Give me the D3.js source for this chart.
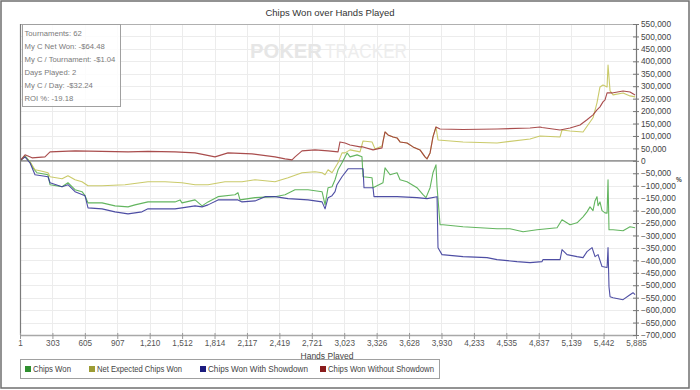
<!DOCTYPE html>
<html><head><meta charset="utf-8">
<script src="https://cdn.jsdelivr.net/npm/d3@7"></script>
<style>
html,body{margin:0;padding:0;background:#fff;}
svg{display:block;}
text{font-family:"Liberation Sans",Arial,sans-serif;}
</style></head>
<body>
<svg id="chart" width="700" height="390"></svg>
<script>
const titleText = "Chips Won over Hands Played";
const xAxisTitle = "Hands Played";
const xTickLabels = ["1","303","605","907","1,210","1,512","1,814","2,117","2,419","2,721","3,023","3,326","3,628","3,930","4,233","4,535","4,837","5,139","5,442","5,885"];
const handStep = 302.25;
const yTicks = d3.range(-700000, 550001, 50000);
const statsLines = ["Tournaments: 62","My C Net Won: -$64.48","My C / Tournament: -$1.04","Days Played: 2","My C / Day: -$32.24","ROI %: -19.18"];
const seriesNames = ["Chips Won","Net Expected Chips Won","Chips Won With Showdown","Chips Won Without Showdown"];
const lineColors = ["#52ad4e","#c4c45a","#3b3b9a","#a03a3a"];
const legendColors = ["#2f8f2f","#9c9c34","#1c1c7e","#8a1c1c"];

// [hand, chips]
const chipsWon = [[1,0],[48,20000],[94,-4000],[122,-28000],[159,-48000],[262,-56000],[281,-96000],[393,-104000],[448,-88000],[514,-116000],[579,-124000],[607,-140000],[635,-169000],[766,-169000],[887,-181000],[1008,-185000],[1073,-177000],[1194,-165000],[1446,-165000],[1493,-157000],[1511,-169000],[1633,-157000],[1698,-181000],[1754,-165000],[1847,-144000],[2005,-136000],[2033,-128000],[2052,-157000],[2192,-148000],[2378,-144000],[2472,-136000],[2565,-116000],[2686,-116000],[2817,-124000],[2845,-177000],[2873,-108000],[2910,-104000],[2938,-76000],[2966,-36000],[3003,-8000],[3050,32000],[3078,16000],[3143,24000],[3189,16000],[3199,-64000],[3283,-68000],[3292,-108000],[3385,-88000],[3404,-28000],[3451,-56000],[3516,-48000],[3544,-76000],[3609,-84000],[3702,-108000],[3758,-136000],[3786,-148000],[3824,-108000],[3851,-48000],[3879,-16000],[3889,-104000],[3917,-257000],[3945,-257000],[4131,-265000],[4290,-269000],[4448,-273000],[4569,-273000],[4691,-285000],[4821,-277000],[5008,-269000],[5054,-237000],[5129,-257000],[5194,-249000],[5250,-225000],[5287,-205000],[5315,-185000],[5343,-200000],[5362,-160000],[5380,-144000],[5390,-180000],[5408,-165000],[5427,-200000],[5455,-209000],[5474,-210000],[5483,-76000],[5492,-277000],[5530,-277000],[5623,-281000],[5688,-265000],[5735,-269000]];

const netExpected = [[1,0],[48,16000],[94,-4000],[141,-36000],[187,-40000],[262,-48000],[281,-64000],[393,-72000],[448,-60000],[514,-76000],[579,-84000],[635,-100000],[766,-100000],[980,-96000],[1194,-84000],[1353,-84000],[1511,-88000],[1633,-96000],[1754,-96000],[1912,-84000],[2071,-84000],[2192,-76000],[2378,-84000],[2500,-68000],[2630,-48000],[2751,-44000],[2817,-48000],[2845,-56000],[2873,-36000],[2910,-48000],[2966,-8000],[3003,32000],[3031,32000],[3078,44000],[3171,36000],[3199,80000],[3283,76000],[3311,48000],[3376,60000],[3404,116000],[3432,104000],[3479,96000],[3516,92000],[3544,76000],[3609,72000],[3665,56000],[3730,44000],[3777,16000],[3796,8000],[3824,32000],[3851,96000],[3879,136000],[3898,84000],[4131,76000],[4448,72000],[4756,88000],[4849,100000],[5036,96000],[5054,124000],[5129,120000],[5250,116000],[5343,173000],[5380,233000],[5408,297000],[5436,305000],[5474,297000],[5483,385000],[5502,281000],[5530,265000],[5623,273000],[5688,261000],[5735,257000]];

const withShowdown = [[1,0],[48,16000],[94,-8000],[141,-56000],[262,-64000],[281,-88000],[393,-104000],[448,-96000],[514,-124000],[607,-140000],[635,-189000],[766,-193000],[887,-205000],[1008,-213000],[1138,-205000],[1194,-193000],[1446,-193000],[1511,-189000],[1633,-181000],[1698,-185000],[1754,-177000],[1847,-157000],[2033,-157000],[2071,-165000],[2192,-161000],[2285,-144000],[2378,-144000],[2500,-152000],[2686,-157000],[2817,-165000],[2845,-193000],[2873,-148000],[2910,-140000],[2938,-124000],[2956,-96000],[3003,-64000],[3059,-32000],[3199,-32000],[3208,-108000],[3292,-108000],[3301,-144000],[3516,-144000],[3702,-148000],[3796,-152000],[3889,-144000],[3898,-349000],[3935,-377000],[4131,-385000],[4355,-389000],[4448,-397000],[4634,-405000],[4756,-409000],[4868,-405000],[4877,-397000],[5036,-397000],[5054,-357000],[5101,-377000],[5194,-385000],[5250,-389000],[5287,-365000],[5334,-349000],[5362,-385000],[5390,-377000],[5427,-425000],[5474,-429000],[5483,-349000],[5492,-506000],[5502,-546000],[5530,-550000],[5623,-558000],[5688,-538000],[5716,-530000],[5735,-538000]];

const withoutShowdown = [[1,0],[48,24000],[113,12000],[234,16000],[281,36000],[514,40000],[766,38000],[1008,36000],[1194,38000],[1446,36000],[1633,32000],[1819,16000],[1940,32000],[2164,28000],[2378,16000],[2472,8000],[2537,4000],[2565,16000],[2630,40000],[2751,44000],[2873,40000],[2966,36000],[2984,76000],[3031,72000],[3078,64000],[3171,56000],[3199,56000],[3292,44000],[3376,52000],[3385,76000],[3404,116000],[3432,104000],[3479,96000],[3516,92000],[3544,76000],[3609,72000],[3665,56000],[3730,44000],[3777,16000],[3796,8000],[3824,32000],[3851,96000],[3879,136000],[3917,128000],[4131,126000],[4448,128000],[4756,132000],[4849,136000],[4868,134000],[5036,124000],[5129,132000],[5222,144000],[5287,165000],[5343,185000],[5380,205000],[5408,217000],[5436,237000],[5455,245000],[5474,273000],[5520,273000],[5623,281000],[5688,277000],[5735,265000]];

const allSeries = [chipsWon, netExpected, withShowdown, withoutShowdown];

const svg = d3.select("#chart");
const L = 20, R = 636, T = 24, B = 335;
const xTickValues = xTickLabels.map((d,i) => 1 + i*handStep);
const x = d3.scaleLinear().domain([1, xTickValues[xTickValues.length-1]]).range([L, R]);
const y = d3.scaleLinear().domain([-700000, 550000]).range([B, T]);

// outer frame
svg.append("rect").attr("x",1).attr("y",1).attr("width",688).attr("height",387)
  .attr("fill","#fff").attr("stroke","#6f6f6f").attr("stroke-width",1.5);

// grid
const g = svg.append("g");
g.selectAll("line.vg").data(xTickValues).join("line")
  .attr("x1",d=>Math.round(x(d))+0.5).attr("x2",d=>Math.round(x(d))+0.5)
  .attr("y1",T).attr("y2",B).attr("stroke","#ececec").attr("stroke-width",1);
g.selectAll("line.hg").data(yTicks).join("line")
  .attr("x1",L).attr("x2",R).attr("y1",d=>Math.round(y(d))+0.5).attr("y2",d=>Math.round(y(d))+0.5)
  .attr("stroke","#ececec").attr("stroke-width",1);
// plot top border
svg.append("line").attr("x1",L).attr("x2",R).attr("y1",T+0.5).attr("y2",T+0.5).attr("stroke","#b0b0b0");

// watermark
svg.append("text").attr("x",250).attr("y",58).attr("font-size",21).attr("font-weight","bold")
  .attr("font-family","'Open Sans','DejaVu Sans',sans-serif").attr("fill","#e6e6e6")
  .attr("textLength",72).attr("lengthAdjust","spacingAndGlyphs").text("POKER");
svg.append("text").attr("x",325).attr("y",58).attr("font-size",21)
  .attr("font-family","'Open Sans','DejaVu Sans',sans-serif").attr("fill","#ededed")
  .attr("textLength",82).attr("lengthAdjust","spacingAndGlyphs").text("TRACKER");

// title
svg.append("text").attr("x",(L+R)/2+2).attr("y",16).attr("text-anchor","middle")
  .attr("font-size",9.5).attr("fill","#333").text(titleText);

// zero line
svg.append("line").attr("x1",L).attr("x2",R).attr("y1",y(0)).attr("y2",y(0))
  .attr("stroke","#7a7a7a").attr("stroke-width",1.3);

// lines
svg.append("clipPath").attr("id","clip").append("rect").attr("x",L).attr("y",T).attr("width",R-L).attr("height",B-T);
const line = d3.line().x(d=>x(d[0])).y(d=>y(d[1]));
svg.append("g").attr("clip-path","url(#clip)").selectAll("path").data(allSeries).join("path")
  .attr("d",line).attr("fill","none").attr("stroke",(d,i)=>lineColors[i])
  .attr("stroke-width",1.1).attr("stroke-opacity",0.9).attr("stroke-linejoin","round");

// left axis line
svg.append("line").attr("x1",L+0.5).attr("x2",L+0.5).attr("y1",T).attr("y2",B).attr("stroke","#7a7a7a").attr("stroke-width",1.2);

// x axis
const xAxis = d3.axisBottom(x).tickValues(xTickValues).tickFormat((d,i)=>xTickLabels[i]).tickSize(4).tickSizeOuter(0);
const xg = svg.append("g").attr("transform",`translate(0,${B})`).call(xAxis);
xg.select(".domain").attr("stroke","#a8a8a8").attr("stroke-width",1.5);
xg.selectAll(".tick line").attr("stroke","#999").attr("y1",-2);
xg.selectAll(".tick text").attr("font-size",8.2).attr("fill","#555").attr("y",5).attr("dy","0.71em")
  .attr("font-family","'Liberation Sans',Arial,sans-serif");

// right axis
const yAxis = d3.axisRight(y).tickValues(yTicks).tickFormat(d3.format(",")).tickSize(3).tickSizeOuter(0);
const yg = svg.append("g").attr("transform",`translate(${R},0)`).call(yAxis);
yg.select(".domain").attr("stroke","#777").attr("stroke-width",1.2);
yg.selectAll(".tick line").attr("stroke","#777").attr("x1",-3);
yg.selectAll(".tick text").attr("font-size",8.3).attr("fill","#444").attr("x",5)
  .attr("font-family","'Liberation Sans',Arial,sans-serif");

// % label
svg.append("text").attr("x",676).attr("y",182).attr("font-size",6.5).attr("fill","#444").attr("font-weight","bold").text("%");

// x title
svg.append("text").attr("x",327).attr("y",358.5).attr("text-anchor","middle").attr("font-size",8.5).attr("fill","#444").text(xAxisTitle);

// stats box
const sb = svg.append("g");
sb.append("rect").attr("x",22.5).attr("y",24.5).attr("width",98).attr("height",82)
  .attr("fill","#fff").attr("fill-opacity",0.85).attr("stroke","#a0a0a0");
sb.selectAll("text").data(statsLines).join("text")
  .attr("x",24.5).attr("y",(d,i)=>35.5+i*13.1)
  .attr("font-family","'Open Sans','Noto Sans',sans-serif").attr("font-size",7.7).attr("fill","#7a7a7a").text(d=>d);

// legend
const lg = svg.append("g");
lg.append("rect").attr("x",20.5).attr("y",359.5).attr("width",419).attr("height",19)
  .attr("fill","#fff").attr("stroke","#a0a0a0");
const legendX = [25, 89, 200, 320];
const legendTextW = [38, 85, 100, 106];
const items = lg.selectAll("g.it").data(seriesNames).join("g").attr("transform",(d,i)=>`translate(${legendX[i]},0)`);
items.append("rect").attr("x",0).attr("y",366).attr("width",6).attr("height",6).attr("fill",(d,i)=>legendColors[i]);
items.append("text").attr("x",8).attr("y",372).attr("font-size",8.2).attr("fill","#444")
  .attr("textLength",(d,i)=>legendTextW[i]).attr("lengthAdjust","spacingAndGlyphs").text(d=>d);
</script>
</body></html>
